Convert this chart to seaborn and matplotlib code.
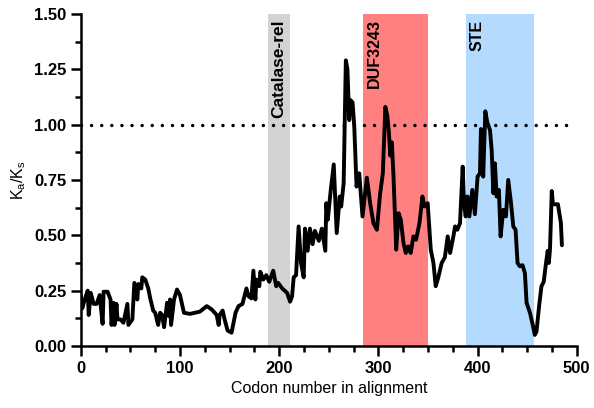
import seaborn as sns
import matplotlib.pyplot as plt
import pandas as pd

# Ka/Ks sliding window along the alignment
codon = [0, 1.5, 4, 7, 8, 10, 13, 16, 19, 22, 23, 27, 30, 31, 33, 34, 36, 37, 40, 43,
         47, 48, 52, 54, 57, 58, 61, 62, 65, 68, 70, 73, 75, 78, 80, 82, 84, 87, 89, 90,
         91, 94, 97, 100, 104, 110, 120, 127, 132, 137, 139, 140, 143, 145, 148, 152, 156, 159, 163, 167,
         169, 172, 174, 176, 177, 180, 181, 184, 187, 190, 194, 197, 199, 203, 208, 211, 213, 214.6, 217, 219.6,
         222, 224.7, 226, 228.7, 231, 233.7, 236, 240, 243, 246.5, 247.5, 249, 252, 255, 256.5, 258, 261, 262.5, 265, 267.2,
         268.8, 270.6, 272, 274, 275.7, 278, 280.7, 284, 288.4, 291.7, 295, 298.5, 301.8, 304.5, 307, 309, 310.5, 312, 313.6, 315.2,
         318, 320.3, 322.6, 325.3, 327.6, 330, 332.6, 335.3, 338, 341.4, 344.4, 346.4, 349.7, 352.8, 355.5, 357.8, 360.4, 363.8, 367, 369.9,
         372.3, 375.6, 377.3, 379.6, 382.3, 385, 386.3, 388, 389.7, 391.7, 394.7, 397.3, 400, 402.4, 403.4, 405.7, 407.8, 409.8, 412.5, 414.2,
         415.9, 417.5, 419.2, 421.5, 423.2, 425.9, 428.6, 430.9, 433.6, 436, 438.3, 440.3, 442.6, 445.3, 447.7, 449.4, 452.8, 455.4, 457.7, 459.4,
         462, 464.4, 466.7, 469, 470.7, 471.8, 473, 474.8, 476, 481, 484, 485]
ratio = [0.23, 0.17, 0.21, 0.25, 0.14, 0.24, 0.19, 0.19, 0.23, 0.10, 0.245, 0.245, 0.21, 0.095, 0.195, 0.095, 0.19, 0.12, 0.12, 0.105,
         0.19, 0.095, 0.12, 0.285, 0.21, 0.28, 0.26, 0.31, 0.30, 0.26, 0.215, 0.16, 0.15, 0.095, 0.15, 0.14, 0.085, 0.195, 0.135, 0.21,
         0.095, 0.21, 0.255, 0.23, 0.15, 0.145, 0.155, 0.18, 0.165, 0.14, 0.095, 0.14, 0.16, 0.12, 0.07, 0.06, 0.15, 0.18, 0.19, 0.26,
         0.225, 0.215, 0.34, 0.21, 0.30, 0.27, 0.335, 0.30, 0.32, 0.29, 0.34, 0.27, 0.285, 0.26, 0.24, 0.20, 0.225, 0.31, 0.32, 0.54,
         0.375, 0.31, 0.53, 0.43, 0.53, 0.46, 0.52, 0.475, 0.53, 0.43, 0.645, 0.57, 0.705, 0.82, 0.66, 0.51, 0.675, 0.63, 0.735, 1.29,
         1.25, 1.02, 1.11, 1.10, 0.99, 0.72, 0.78, 0.585, 0.76, 0.645, 0.555, 0.525, 0.69, 0.78, 1.08, 1.04, 0.97, 0.86, 0.92, 0.77,
         0.435, 0.60, 0.57, 0.465, 0.42, 0.45, 0.42, 0.495, 0.48, 0.555, 0.675, 0.63, 0.645, 0.435, 0.375, 0.27, 0.31, 0.375, 0.40, 0.495,
         0.42, 0.495, 0.54, 0.525, 0.555, 0.81, 0.645, 0.585, 0.675, 0.585, 0.705, 0.595, 0.765, 0.78, 0.98, 0.765, 1.06, 1.01, 0.975, 0.885,
         0.69, 0.825, 0.675, 0.705, 0.495, 0.615, 0.585, 0.75, 0.65, 0.54, 0.525, 0.375, 0.36, 0.365, 0.33, 0.195, 0.15, 0.10, 0.05, 0.065,
         0.18, 0.27, 0.29, 0.375, 0.43, 0.375, 0.435, 0.70, 0.64, 0.64, 0.555, 0.455]

# annotated domains
domain_names = ["Catalase-rel", "DUF3243", "STE"]
domain_start = [189, 285, 388]
domain_end = [211, 350, 457]
domain_colors = ["#d3d3d3", "#ff8080", "#b4dafd"]
label_sizes = [12.5, 11.5, 11.5]

sns.set_style("ticks")
plt.rcParams["font.family"] = ["Liberation Sans", "DejaVu Sans"]
plt.rcParams["mathtext.default"] = "regular"
for key in ["text.color", "axes.labelcolor", "xtick.color", "ytick.color", "axes.edgecolor"]:
    plt.rcParams[key] = "black"

df = pd.DataFrame({"codon": codon, "ratio": ratio})

fig = plt.figure(figsize=(5.94, 4.08), dpi=100)
ax = fig.add_axes([0.136, 0.152, 0.835, 0.814])

for name, s, e, c, fs in zip(domain_names, domain_start, domain_end, domain_colors, label_sizes):
    ax.axvspan(s, e, color=c, lw=0, zorder=0)
    ax.text(s + 11, 1.475, name, rotation=90, ha="center", va="top",
            fontsize=fs, fontweight="bold", zorder=3)

ax.hlines(1.0, 0, 492, colors="black", linestyles=(0, (0.01, 2.9)), lw=2.5,
          capstyle="round", zorder=4)

sns.lineplot(data=df, x="codon", y="ratio", color="black", lw=2.8,
             sort=False, estimator=None, ax=ax, zorder=5)

ax.set_xlim(0, 500)
ax.set_ylim(0, 1.5)
ax.set_xticks([0, 100, 200, 300, 400, 500])
ax.set_xticks(range(0, 501, 25), minor=True)
ax.set_yticks([0, 0.25, 0.5, 0.75, 1.0, 1.25, 1.5])
ax.set_yticks([0.125, 0.375, 0.625, 0.875, 1.125, 1.375], minor=True)
ax.set_yticklabels(["0.00", "0.25", "0.50", "0.75", "1.00", "1.25", "1.50"])
ax.tick_params(which="major", length=7, width=1.8, labelsize=12, direction="out")
ax.tick_params(which="minor", length=4.5, width=1.8, direction="out")
for lab in ax.get_xticklabels() + ax.get_yticklabels():
    lab.set_fontweight("bold")

ax.set_xlabel("Codon number in alignment", fontsize=11.5)
ax.set_ylabel("$K_a/K_s$", fontsize=11.5)
for sp in ["left", "bottom"]:
    ax.spines[sp].set_linewidth(1.8)
sns.despine(ax=ax)

fig.savefig("out.png", dpi=100)
